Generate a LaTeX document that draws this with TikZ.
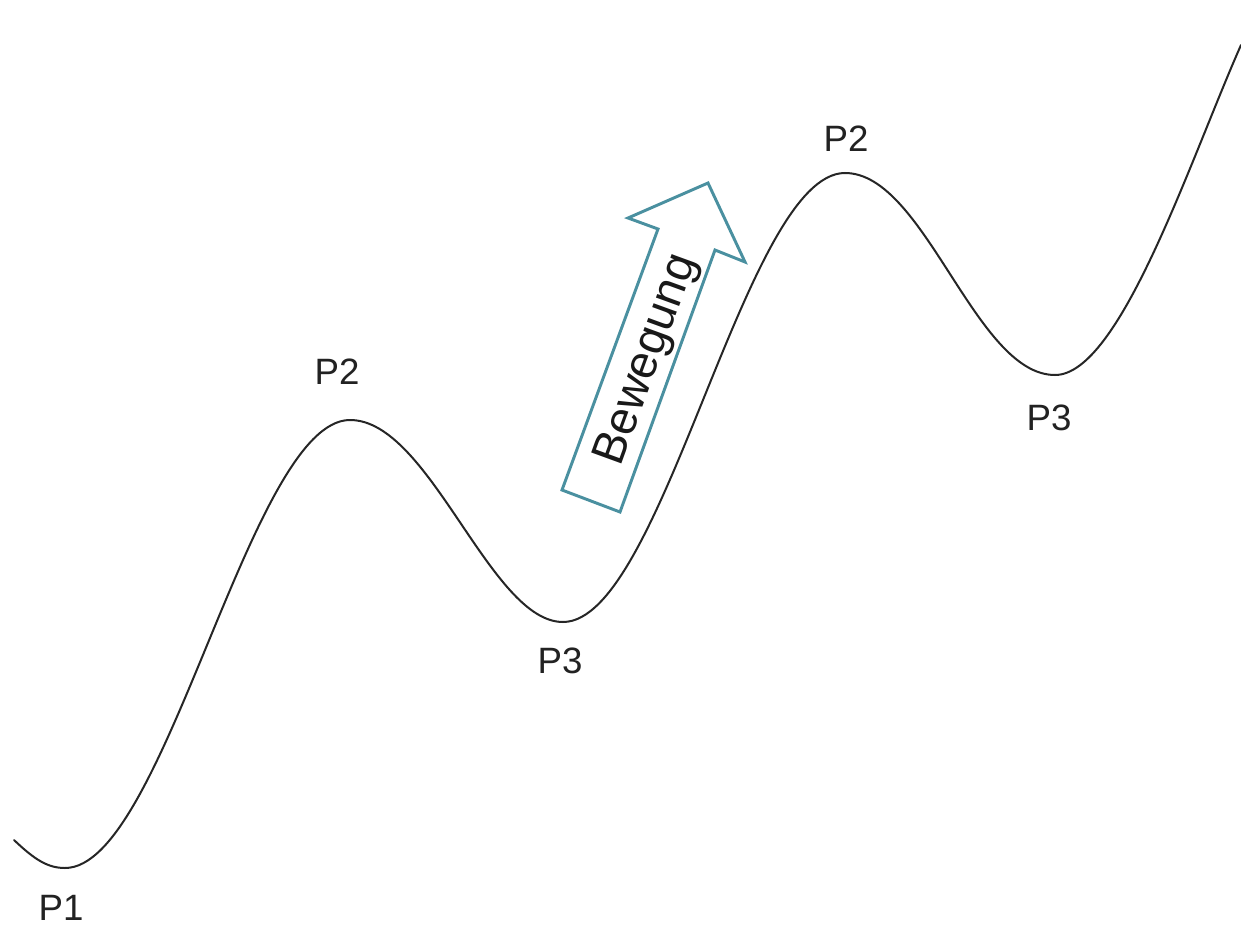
\documentclass[tikz,border=0pt]{standalone}
\usepackage{fontspec}
\setmainfont{Liberation Sans}
\definecolor{arrowteal}{RGB}{74,144,160}
\definecolor{labelgray}{RGB}{34,34,34}
\begin{document}
\begin{tikzpicture}[x=0.75pt,y=-0.75pt,
  curve/.style={line width=1.5pt,draw=black!85,line cap=round},
  plabel/.style={font=\fontsize{27.5}{30}\selectfont,text=labelgray,inner sep=0pt,anchor=center},
  movearrow/.style={line width=2.2pt,draw=arrowteal,line join=miter},
  movetext/.style={font=\fontsize{35}{40}\selectfont,text=black!90,inner sep=0pt,rotate=70,anchor=center}]
\useasboundingbox[fill=white] (0,0) rectangle (1241,938);
% curve points
\coordinate (s) at (14,840);
\coordinate (m1) at (65,868);
\coordinate (x1) at (350,420);
\coordinate (m2) at (563,622);
\coordinate (x2) at (845,173);
\coordinate (m3) at (1055,375);
\coordinate (e) at (1241,45);
\draw[curve] (s) .. controls (35,860) and (48,868) .. (m1)
  .. controls (165,868) and (250,420) .. (x1)
  .. controls (430,420) and (490,622) .. (m2)
  .. controls (663,622) and (745,173) .. (x2)
  .. controls (925,173) and (975,375) .. (m3)
  .. controls (1120,375) and (1190,160) .. (e);
% labels
\node[plabel] (p1) at (61,908) {P1};
\node[plabel] (p2a) at (337,372) {P2};
\node[plabel] (p3a) at (560,661) {P3};
\node[plabel] (p2b) at (846,139) {P2};
\node[plabel] (p3b) at (1049,418) {P3};
% arrow
\coordinate (a1) at (562,490);
\coordinate (a2) at (620,512);
\coordinate (a3) at (715,250);
\coordinate (a4) at (745,262);
\coordinate (a5) at (708,183);
\coordinate (a6) at (628,218);
\coordinate (a7) at (658,229);
\draw[movearrow] (a1) -- (a2) -- (a3) -- (a4) -- (a5) -- (a6) -- (a7) -- cycle;
\node[movetext] (bew) at (648,360) {Bewegung};
\end{tikzpicture}
\end{document}
